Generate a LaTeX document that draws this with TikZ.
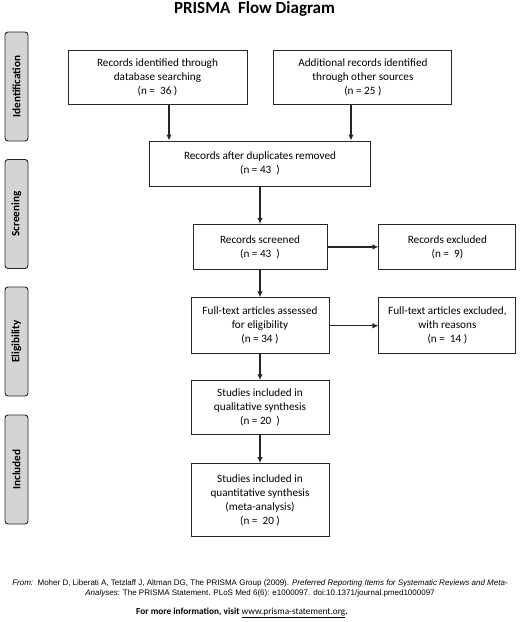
\documentclass[tikz,border=0pt]{standalone}
\usepackage{fontspec}
\setmainfont{Carlito}
\newfontfamily\arialfont{Liberation Sans}
\usetikzlibrary{arrows.meta,positioning}

\begin{document}
\begin{tikzpicture}[x=1pt,y=-1pt,>={Latex[length=6pt,width=5.5pt]},
    box/.style={draw=black!85,line width=0.9pt,align=center,inner sep=2pt,font=\fontsize{11.2}{14}\selectfont},
    phase/.style={draw=black!85,line width=0.9pt,fill=black!17,rounded corners=3pt,rotate=90,minimum width=109pt,minimum height=23pt,inner sep=0pt,font=\bfseries\fontsize{11.2}{12}\selectfont},
    flow/.style={->,line width=1.2pt,draw=black!85}]

                \useasboundingbox (0,0) rectangle (520,622);

                \node[font=\bfseries\fontsize{17}{18}\selectfont] (title) at (254.5,9) {PRISMA~~Flow Diagram};

                \foreach \lbl/\yy [count=\i] in {Identification/86.5, Screening/214, Eligibility/341.5, Included/469.5}
                    {
                    \node[phase] (phase\i) at (16.5,\yy) {\lbl};
                    }

                \node[box,minimum width=179pt,minimum height=54pt] (dbsearch) at (157.5,77) {Records identified through\\database searching\\(n =~ 36 )};

                \node[box,minimum width=178pt,minimum height=54pt] (othersrc) [right=26pt of dbsearch] {Additional records identified\\through other sources\\(n = 25 )};

                \node[box,minimum width=221pt,minimum height=45pt] (dedup) at (260,163.5) {Records after duplicates removed\\(n = 43~ )};

                \node[box,minimum width=134pt,minimum height=45pt] (screened) [below=37.5pt of dedup] {Records screened\\(n = 43~ )};

                \node[box,minimum width=137pt,minimum height=45pt] (excluded) [right=51pt of screened] {Records excluded\\(n =~ 9)};

                \node[box,minimum width=138pt,minimum height=56pt] (fulltext) [below=27.5pt of screened] {Full-text articles assessed\\for eligibility\\(n = 34 )};

                \node[box,minimum width=137pt,minimum height=56pt] (ftexcl) [right=49pt of fulltext] {Full-text articles excluded,\\with reasons\\(n =~ 14 )};

                \node[box,minimum width=138pt,minimum height=54pt] (qual) [below=26pt of fulltext] {Studies included in\\qualitative synthesis\\(n = 20~ )};

                \node[box,minimum width=138pt,minimum height=73pt] (quant) [below=28pt of qual] {Studies included in\\quantitative synthesis\\(meta-analysis)\\(n =~ 20 )};

                \foreach \from/\to in {dedup/screened, screened/fulltext, fulltext/qual, qual/quant, screened/excluded, fulltext/ftexcl}
                    {
                    \draw[flow] (\from) -- (\to);
                    }

                \draw[flow] (dbsearch.south -| 169,0) -- (dedup.north -| 169,0);

                \draw[flow] (othersrc.south -| 351,0) -- (dedup.north -| 351,0);

                \node[font=\arialfont\fontsize{8}{10}\selectfont,align=center] (source) at (260,588) {\textit{From:}~~Moher D, Liberati A, Tetzlaff J, Altman DG, The PRISMA Group (2009). \textit{Preferred Reporting Items for Systematic Reviews and Meta-}\\\textit{Analyses}: The PRISMA Statement. PLoS Med 6(6): e1000097. doi:10.1371/journal.pmed1000097};

                \node[font=\bfseries\fontsize{9.3}{10}\selectfont] (moreinfo) at (242,613) {For more information, visit \underline{\mdseries www.prisma-statement.org}.};

\end{tikzpicture}
\end{document}
